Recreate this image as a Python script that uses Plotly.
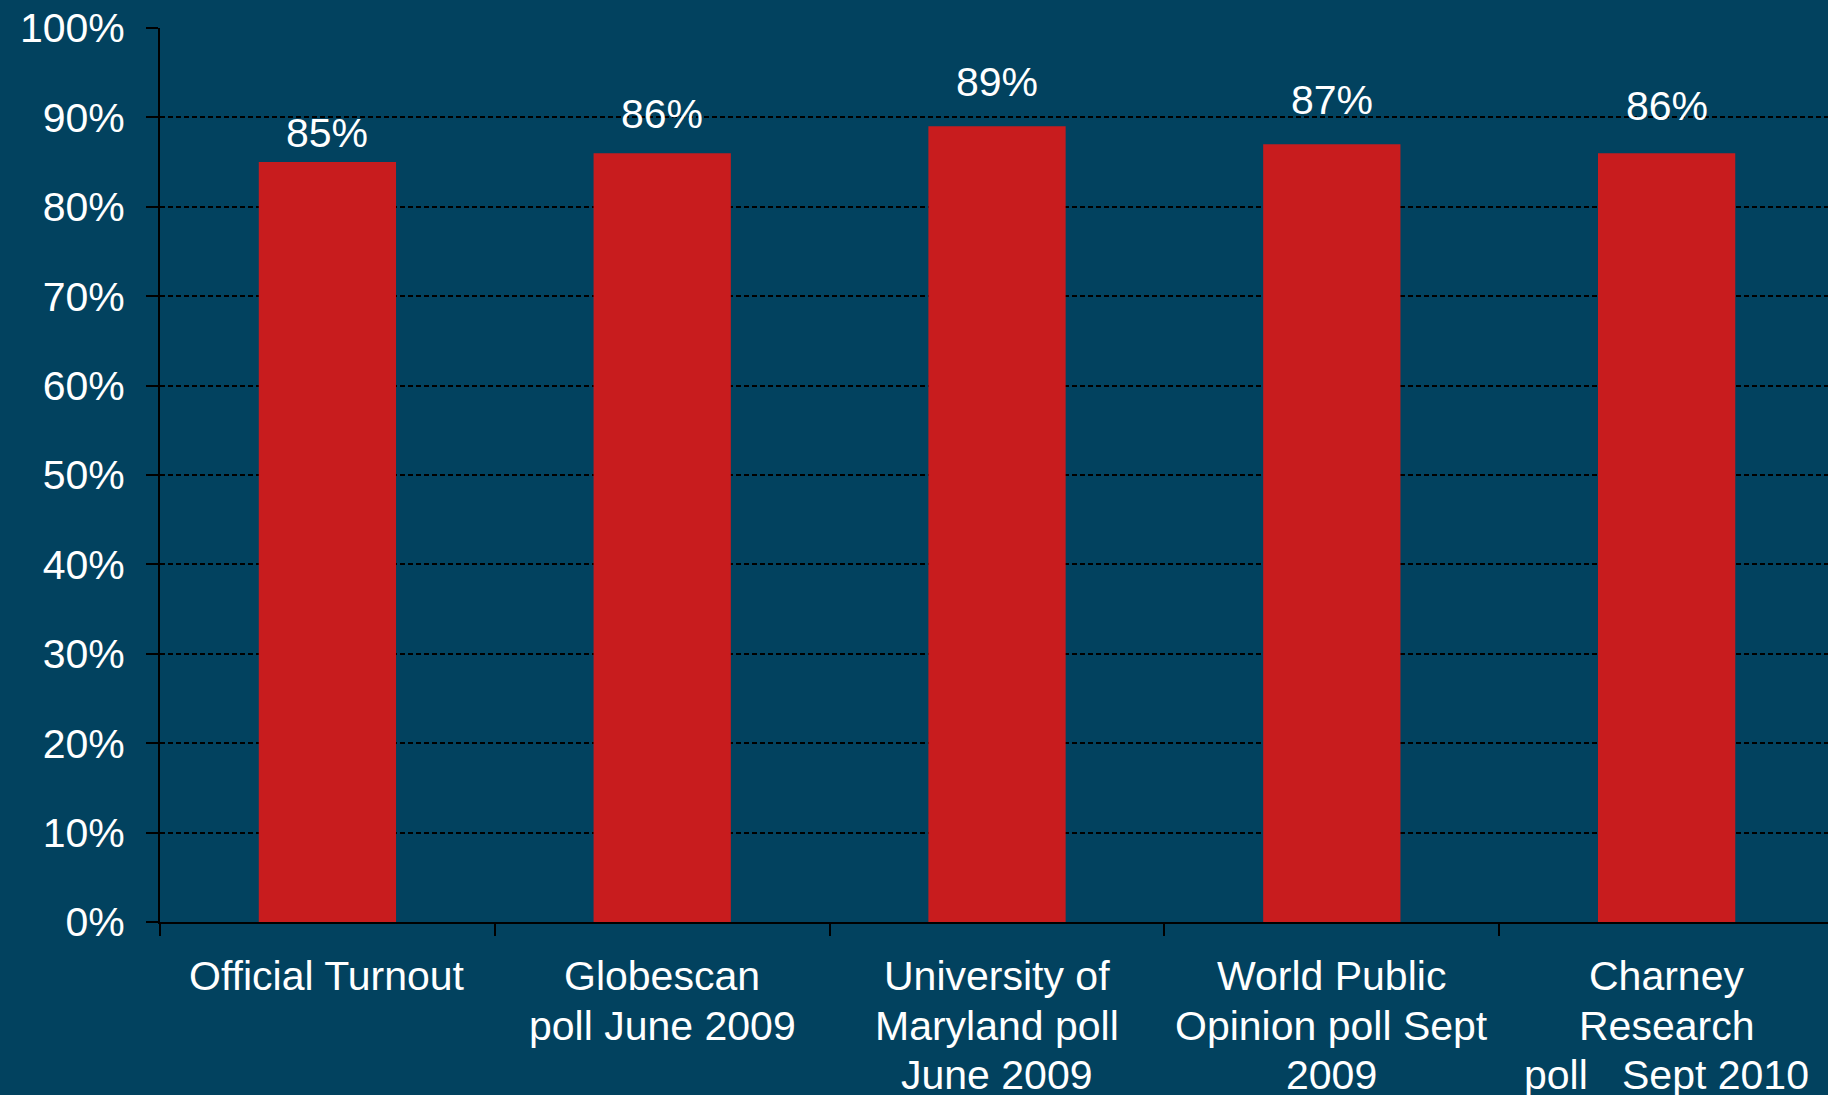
import plotly.graph_objects as go

categories = [
    "Official Turnout",
    "Globescan<br>poll June 2009",
    "University of<br>Maryland poll<br>June 2009",
    "World Public<br>Opinion poll Sept<br>2009",
    "Charney<br>Research<br>poll\u00a0\u00a0\u00a0Sept 2010",
]
values = [85, 86, 89, 87, 86]
y_ticks = [0, 10, 20, 30, 40, 50, 60, 70, 80, 90, 100]
y_tick_labels = [f"{v}%" for v in y_ticks]

# styling: vertical lift (px) of each value label above its bar, as in the original
label_lift_px = [4, 14, 19, 19, 22]

FONT = "Liberation Sans, Arial, sans-serif"
FS = 41
BAR = "#C81C1E"
BG = "#02425F"

fig = go.Figure()
fig.add_trace(go.Bar(
    x=categories, y=values,
    marker=dict(color=BAR, line=dict(width=0)),
    hoverinfo="skip",
))

annotations = []
for c, v, lift in zip(categories, values, label_lift_px):
    annotations.append(dict(
        x=c, y=v, xref="x", yref="y", text=f"{v}%",
        showarrow=False, yanchor="bottom", yshift=lift,
        font=dict(family=FONT, size=FS, color="white"),
    ))
LINE_STEP = 49.5
for c in categories:
    for i, line in enumerate(c.split("<br>")):
        annotations.append(dict(
            x=c, y=0, xref="x", yref="paper", text=line,
            showarrow=False, yanchor="top", yshift=-(29 + i * LINE_STEP),
            font=dict(family=FONT, size=FS, color="white"),
        ))

fig.update_layout(
    width=1828, height=1095,
    margin=dict(l=160, r=0, t=28, b=173),
    paper_bgcolor=BG, plot_bgcolor="rgba(0,0,0,0)",
    bargap=0.59,
    showlegend=False,
    annotations=annotations,
    font=dict(family=FONT, size=FS, color="white"),
)
fig.update_xaxes(
    range=[-0.5, 4.482],
    showticklabels=False,
    ticks="outside", ticklen=12, tickwidth=2, tickcolor="black",
    tickson="boundaries",
    showline=True, linecolor="black", linewidth=2,
    showgrid=False, zeroline=False,
)
fig.update_yaxes(
    range=[0, 100],
    tickvals=y_ticks, ticktext=y_tick_labels,
    ticks="outside", ticklen=12, tickwidth=1.5, tickcolor="black",
    ticklabelstandoff=13,
    tickfont=dict(family=FONT, size=FS, color="white"),
    showline=True, linecolor="black", linewidth=2,
    showgrid=True, gridcolor="black", gridwidth=1.5, griddash="5px,3px",
    zeroline=False,
)

fig.write_html(
    "out.html",
    config={"displayModeBar": False},
    post_script="document.body.style.margin='0';document.body.style.overflow='hidden';",
)
